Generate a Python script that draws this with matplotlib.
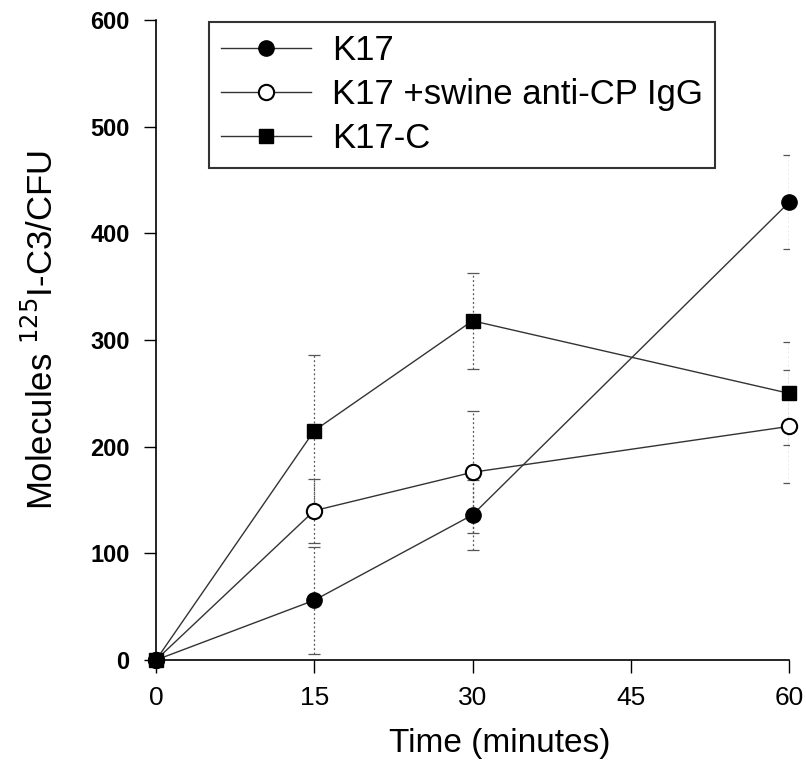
import matplotlib
matplotlib.use('Agg')
import matplotlib.pyplot as plt

plt.rcParams['font.family'] = ['Liberation Sans', 'DejaVu Sans']

# data
time = [0, 15, 30, 60]
k17 = [0, 56, 136, 429]
k17_err = [0, 50, 33, 44]
k17_igg = [0, 140, 176, 219]
k17_igg_err = [0, 30, 57, 53]
k17c = [0, 215, 318, 250]
k17c_err = [0, 71, 45, 48]

fig = plt.figure(figsize=(8.06, 7.74), dpi=100)
ax = fig.add_axes([156/806, 1-660/774, (789-156)/806, 640/774])

line_kw = dict(color='#333333', lw=1.0, clip_on=False, zorder=3)
err_kw = dict(ecolor='#555555', elinewidth=0.9, capsize=4.5, capthick=0.9, fmt='none', zorder=2)

for y, e in [(k17, k17_err), (k17_igg, k17_igg_err), (k17c, k17c_err)]:
    eb = ax.errorbar(time, y, yerr=e, **err_kw)
    for lc in eb[2]:
        lc.set_linestyle((0, (1.5, 2)))

ax.plot(time, k17, marker='o', ms=11, mfc='black', mec='black', label='K17', **line_kw)
ax.plot(time, k17_igg, marker='o', ms=11, mfc='white', mec='black', mew=1.5,
        label='K17 +swine anti-CP IgG', **line_kw)
ax.plot(time, k17c, marker='s', ms=10, mfc='black', mec='black', label='K17-C', **line_kw)

ax.set_xlim(0, 60)
ax.set_ylim(0, 600)
ax.set_xticks([0, 15, 30, 45, 60])
ax.set_yticks([0, 100, 200, 300, 400, 500, 600])
ax.spines['top'].set_visible(False)
ax.spines['right'].set_visible(False)
for s in ['left', 'bottom']:
    ax.spines[s].set_linewidth(1.2)
ax.tick_params(axis='both', direction='out', length=9, width=1, pad=10)
ax.tick_params(axis='x', labelsize=19)
ax.tick_params(axis='y', labelsize=17)
for t in ax.get_yticklabels():
    t.set_fontweight('bold')

ax.set_xlabel('Time (minutes)', fontsize=24)
ax.xaxis.set_label_coords((500-156)/633, -(728-660)/640)
ax.set_ylabel('Molecules $^{125}$I-C3/CFU', fontsize=25,
              family=['Liberation Sans Narrow', 'Liberation Sans', 'DejaVu Sans'])
ax.yaxis.set_label_coords(-(156-60)/633, (660-330)/640)

leg = ax.legend(loc='upper left', bbox_to_anchor=(209/806, 1-22/774),
                bbox_transform=fig.transFigure, borderaxespad=0, fontsize=25,
                frameon=True, fancybox=False, edgecolor='black', handlelength=2.6,
                labelspacing=0.32, borderpad=0.35, handletextpad=0.6)
leg.get_frame().set_linewidth(1.5)

fig.savefig('out.png', dpi=100, facecolor='white')
